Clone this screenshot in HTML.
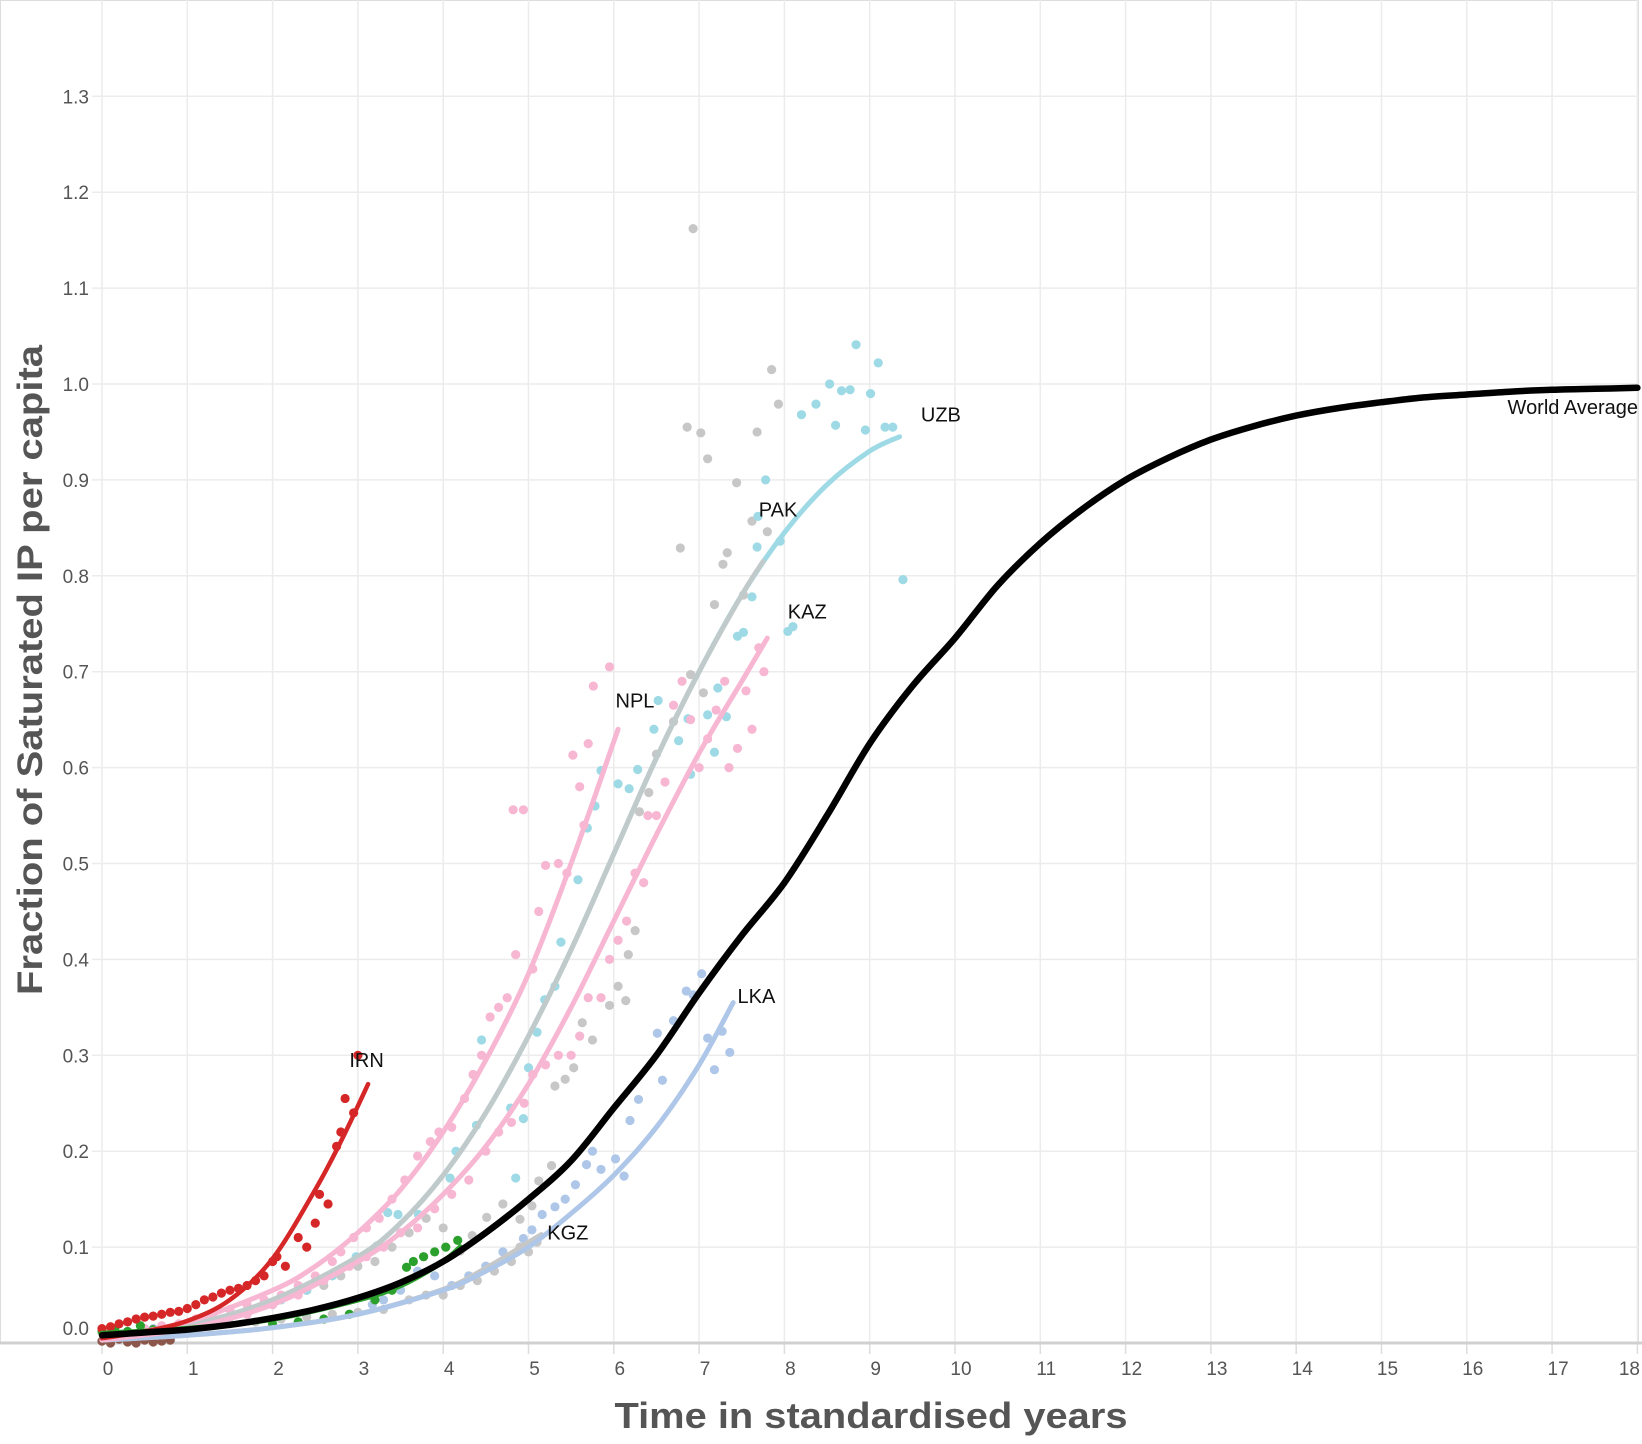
<!DOCTYPE html>
<html><head><meta charset="utf-8"><style>
html,body{margin:0;padding:0;background:#fff;}
svg{display:block;font-family:"Liberation Sans",Arial,sans-serif;}
</style></head><body>
<svg id="chart" width="1642" height="1444" viewBox="0 0 1642 1444" xmlns="http://www.w3.org/2000/svg">
<rect x="0" y="0" width="1642" height="1444" fill="#fff"/>
<g id="grid"></g>
<g id="axes"></g>
<g id="dots"></g>
<g id="lines"></g>
<g id="labels"></g>
<text x="871" y="1428" text-anchor="middle" font-size="36" font-weight="bold" fill="#555" textLength="513" lengthAdjust="spacingAndGlyphs">Time in standardised years</text>
<text transform="translate(42,670) rotate(-90)" text-anchor="middle" font-size="35" font-weight="bold" fill="#555" textLength="650" lengthAdjust="spacingAndGlyphs">Fraction of Saturated IP per capita</text>
</svg>
<script>
const xTicks=[0,1,2,3,4,5,6,7,8,9,10,11,12,13,14,15,16,17,18];
const yTicks=[0,0.1,0.2,0.3,0.4,0.5,0.6,0.7,0.8,0.9,1.0,1.1,1.2,1.3];
const yTickLabels=["0.0","0.1","0.2","0.3","0.4","0.5","0.6","0.7","0.8","0.9","1.0","1.1","1.2","1.3"];

const worldT=[0,0.5,1,1.5,2,2.5,3,3.5,4,4.5,5,5.5,6,6.5,7,7.5,8,8.5,9,9.5,10,10.5,11,11.5,12,12.5,13,13.5,14,14.5,15,15.5,16,16.5,17,17.5,18];
const worldV=[0.008,0.011,0.014,0.019,0.026,0.035,0.047,0.063,0.085,0.115,0.15,0.19,0.245,0.30,0.365,0.425,0.48,0.55,0.625,0.685,0.735,0.79,0.834,0.87,0.90,0.923,0.942,0.956,0.967,0.975,0.981,0.986,0.989,0.992,0.994,0.995,0.996];
const irnT=[0,0.5,1,1.5,2,2.5,2.8,3.12];
const irnV=[0.005,0.012,0.023,0.045,0.088,0.16,0.21,0.27];
const nplT=[0,1,2,2.5,3,3.5,4,4.5,5,5.5,6.05];
const nplV=[0.005,0.022,0.055,0.08,0.115,0.16,0.22,0.295,0.385,0.5,0.64];
const uzbT=[0,1,2,3,3.5,4,4.5,5,5.5,6,6.5,7,7.5,8,8.5,9,9.35];
const uzbV=[0.005,0.018,0.045,0.09,0.125,0.175,0.24,0.32,0.41,0.51,0.61,0.70,0.78,0.845,0.895,0.93,0.945];
const pakT=[0,1,2,3,3.5,4,4.5,5,5.5,6,6.5,7,7.5,7.75];
const pakV=[0.005,0.018,0.045,0.09,0.125,0.175,0.24,0.32,0.41,0.51,0.61,0.70,0.78,0.815];
const kazT=[0,1,2,3,3.5,4,4.5,5,5.5,6,6.5,7,7.5,7.8];
const kazV=[0.003,0.015,0.04,0.085,0.115,0.155,0.205,0.27,0.35,0.44,0.53,0.615,0.69,0.735];
const lkaT=[0,1,2,3,4,4.5,5,5.5,6,6.5,7,7.4];
const lkaV=[0.003,0.008,0.016,0.03,0.055,0.075,0.10,0.135,0.175,0.225,0.29,0.355];
const kgzT=[0,1,2,3,4,4.5,5,5.15];
const kgzV=[0.003,0.008,0.016,0.03,0.056,0.078,0.105,0.113];
const grnT=[0,1,2,3,3.5,4,4.2];
const grnV=[0.01,0.015,0.025,0.045,0.06,0.085,0.10];

const grayT=[0.2,0.5,0.8,1.1,1.4,1.7,2,2.2,2.4,2.6,2.8,3,3.2,3.4,3.6,3.8,4,4.2,4.34,4.51,4.7,4.9,5.04,5.12,5.27,5.31,5.43,5.53,5.63,5.75,5.95,6.05,6.14,6.17,6.25,6.3,6.41,6.5,6.7,6.78,6.86,6.9,6.93,7.02,7.05,7.1,7.18,7.28,7.33,7.44,7.52,7.62,7.68,7.8,7.85,7.93,
1.5,1.8,2.1,2.4,2.7,3.0,3.3,3.6,3.8,4.0,4.2,4.4,4.5,4.6,4.8,4.9,5.0,5.1];
const grayV=[0.005,0.01,0.015,0.02,0.025,0.03,0.04,0.05,0.055,0.06,0.07,0.08,0.085,0.10,0.115,0.13,0.12,0.096,0.112,0.131,0.145,0.129,0.143,0.169,0.185,0.268,0.275,0.287,0.334,0.316,0.352,0.372,0.357,0.405,0.43,0.554,0.574,0.614,0.648,0.829,0.955,0.697,1.162,0.949,0.678,0.922,0.77,0.812,0.824,0.897,0.78,0.857,0.95,0.846,1.015,0.979,
0.02,0.022,0.025,0.027,0.03,0.032,0.035,0.045,0.05,0.05,0.06,0.065,0.08,0.075,0.085,0.10,0.095,0.105];
const uzbPtT=[8.84,9.1,8.77,8.67,8.53,8.37,8.2,8.6,8.95,9.01,9.18,9.27,9.39,7.78,7.69,7.68,7.95,7.62,7.52,7.45,8.04,8.1,7.22,7.1,6.87,6.76,7.18,7.32,6.9,6.52,6.47,6.28,6.18,6.05,5.85,5.78,5.69,5.58,5.38,5.31,5.19,5.1,5.0,4.94,4.85,4.79,4.45,4.39,4.15,4.08,3.71,3.47,3.35,3.22,2.98,2.7,2.4,2.1];
const uzbPtV=[1.041,1.022,0.994,0.993,1.0,0.979,0.968,0.957,0.952,0.99,0.955,0.955,0.796,0.90,0.862,0.83,0.836,0.778,0.741,0.737,0.742,0.747,0.683,0.655,0.651,0.628,0.616,0.653,0.593,0.67,0.64,0.598,0.578,0.583,0.597,0.56,0.537,0.483,0.418,0.372,0.358,0.324,0.287,0.234,0.172,0.245,0.316,0.227,0.20,0.172,0.134,0.134,0.136,0.101,0.09,0.07,0.055,0.045];
const nplPtT=[0.1,0.3,0.5,0.7,0.9,1.1,1.3,1.5,1.7,1.9,2.1,2.3,2.5,2.7,2.8,2.95,3.1,3.25,3.4,3.55,3.7,3.85,3.95,4.1,4.25,4.35,4.45,4.55,4.65,4.75,4.82,4.94,4.85,5.05,5.12,5.2,5.35,5.52,5.45,5.6,5.65,5.76,5.95,5.7];
const nplPtV=[0.01,0.012,0.015,0.018,0.02,0.025,0.03,0.035,0.04,0.045,0.05,0.06,0.07,0.085,0.095,0.11,0.12,0.13,0.15,0.17,0.195,0.21,0.22,0.225,0.255,0.28,0.30,0.34,0.35,0.36,0.556,0.556,0.405,0.39,0.45,0.498,0.50,0.613,0.49,0.58,0.54,0.685,0.705,0.625];
const kazPtT=[0.2,0.5,0.8,1.1,1.4,1.7,2,2.3,2.6,2.9,3.1,3.3,3.5,3.7,3.9,4.1,4.3,4.5,4.65,4.8,4.95,5.05,5.2,5.35,5.5,5.6,5.7,5.85,5.95,6.05,6.15,6.25,6.35,6.5,6.6,6.7,6.8,6.9,7.0,7.1,7.2,7.3,7.35,7.45,7.55,7.62,7.7,7.76,6.4];
const kazPtV=[0.005,0.01,0.013,0.018,0.025,0.03,0.04,0.05,0.065,0.08,0.09,0.10,0.115,0.12,0.14,0.155,0.17,0.2,0.22,0.23,0.25,0.28,0.29,0.30,0.30,0.32,0.36,0.36,0.40,0.42,0.44,0.49,0.48,0.55,0.585,0.665,0.69,0.65,0.60,0.63,0.66,0.69,0.60,0.62,0.68,0.64,0.725,0.70,0.55];
const lkaPtT=[7.03,6.85,6.93,6.7,6.51,7.27,7.36,7.18,7.1,6.57,6.29,6.19,6.02,6.12,5.85,5.75,5.68,5.55,5.43,5.31,5.16,5.04,4.94,4.7,4.5,4.3,4.1,3.9,3.7,3.5,3.3,3.17,0.3,0.6];
const lkaPtV=[0.385,0.367,0.363,0.336,0.323,0.325,0.303,0.285,0.318,0.274,0.254,0.232,0.192,0.174,0.181,0.20,0.186,0.165,0.150,0.142,0.134,0.118,0.109,0.095,0.08,0.07,0.06,0.07,0.075,0.055,0.045,0.04,0.012,0.015];
const irnPtT=[0,0.1,0.2,0.3,0.4,0.5,0.6,0.7,0.8,0.9,1,1.1,1.2,1.3,1.4,1.5,1.6,1.7,1.8,1.9,2.0,2.05,2.15,2.3,2.4,2.5,2.55,2.65,2.75,2.8,2.85,2.95,3.0];
const irnPtV=[0.015,0.017,0.02,0.022,0.025,0.027,0.028,0.03,0.032,0.033,0.036,0.04,0.045,0.048,0.052,0.055,0.057,0.06,0.065,0.07,0.085,0.09,0.08,0.11,0.10,0.125,0.155,0.145,0.205,0.22,0.255,0.24,0.30];
const grnPtT=[0,0.15,0.3,0.45,0.6,2.0,2.3,2.6,2.9,3.2,3.4,3.57,3.65,3.77,3.9,4.03,4.17];
const grnPtV=[0.012,0.015,0.012,0.018,0.014,0.02,0.022,0.025,0.03,0.045,0.055,0.079,0.085,0.09,0.095,0.10,0.107];
const brnPtT=[0,0.1,0.2,0.3,0.4,0.5,0.6,0.7,0.8];
const brnPtV=[0.002,0.0,0.004,0.001,0.0,0.003,0.001,0.002,0.003];

const X=t=>102+85.3*t;
const Y=v=>1343-959*v;
const NS="http://www.w3.org/2000/svg";
function mk(tag,attrs,parent){const e=document.createElementNS(NS,tag);for(const k in attrs)e.setAttribute(k,attrs[k]);parent.appendChild(e);return e;}

const grid=document.getElementById('grid'),axes=document.getElementById('axes');
mk('rect',{x:0.5,y:0.5,width:1638,height:1342.5,fill:'none',stroke:'#ddd','stroke-width':1},grid);
xTicks.forEach((t,i)=>{
  const l=mk('line',{x1:X(t),x2:X(t),y1:0,y2:1343,stroke:'#ececec','stroke-width':1.5},grid);
  
  
  const tk=mk('line',{x1:X(t),x2:X(t),y1:1343,y2:1354,stroke:'#ddd','stroke-width':1.5},axes);
  
  
  const last=i===xTicks.length-1;
  const tx=mk('text',{x:last?1640:X(t)+6,y:1375,'text-anchor':last?'end':'middle','font-size':19,fill:'#555'},axes);
  tx.textContent=String(t);
  
  
});
yTicks.forEach((v,i)=>{
  if(i>0){
    const l=mk('line',{x1:92,x2:1639,y1:Y(v),y2:Y(v),stroke:'#ececec','stroke-width':1.5},grid);
    
    
  }
  const ty=i===0?1335:Y(v)+7;
  const tx=mk('text',{x:89,y:ty,'text-anchor':'end','font-size':19,fill:'#555'},axes);
  tx.textContent=yTickLabels[i];
  
  
});
const ax=mk('line',{x1:0,x2:1642,y1:1343,y2:1343,stroke:'#d0d0d0','stroke-width':3},axes);



const dots=document.getElementById('dots');
function drawDots(ts,vs,color,name){
  ts.forEach((t,i)=>{
    const c=mk('circle',{cx:X(t),cy:Y(vs[i]),r:4.6,fill:color},dots);
    
    
  });
}
drawDots(grayT,grayV,'#c7c7c7','pak-kgz-point');
drawDots(lkaPtT,lkaPtV,'#aec7e8','lka-point');
drawDots(uzbPtT,uzbPtV,'#9edae5','uzb-point');
drawDots(kazPtT,kazPtV,'#f7b6d2','kaz-point');
drawDots(nplPtT,nplPtV,'#f7b6d2','npl-point');
drawDots(grnPtT,grnPtV,'#2ca02c','green-point');
drawDots(irnPtT,irnPtV,'#d62728','irn-point');
drawDots(brnPtT,brnPtV,'#8c564b','brown-point');

const lines=document.getElementById('lines');
function drawLine(ts,vs,color,w,name,op){
  const P=ts.map((t,i)=>[X(t),Y(vs[i])]);
  let d='M'+P[0][0].toFixed(1)+','+P[0][1].toFixed(1);
  for(let i=0;i<P.length-1;i++){
    const p0=P[i-1]||P[i],p1=P[i],p2=P[i+1],p3=P[i+2]||P[i+1];
    const c1=[p1[0]+(p2[0]-p0[0])/6,p1[1]+(p2[1]-p0[1])/6];
    const c2=[p2[0]-(p3[0]-p1[0])/6,p2[1]-(p3[1]-p1[1])/6];
    d+='C'+c1[0].toFixed(1)+','+c1[1].toFixed(1)+' '+c2[0].toFixed(1)+','+c2[1].toFixed(1)+' '+p2[0].toFixed(1)+','+p2[1].toFixed(1);
  }
  const p=mk('path',{d:d,fill:'none',stroke:color,'stroke-width':w,'stroke-linecap':'round','stroke-linejoin':'round','stroke-opacity':op||1},lines);
  
  
}
drawLine(kgzT,kgzV,'#c7c7c7',5,'kgz-fit-line');
drawLine(lkaT,lkaV,'#aec7e8',5,'lka-fit-line');
drawLine(uzbT,uzbV,'#9edae5',5,'uzb-fit-line');
drawLine(pakT,pakV,'#c7c7c7',5,'pak-fit-line',0.85);
drawLine(kazT,kazV,'#f7b6d2',5,'kaz-fit-line');
drawLine(nplT,nplV,'#f7b6d2',5,'npl-fit-line');
drawLine(grnT,grnV,'#2ca02c',5.5,'green-fit-line');
drawLine(irnT,irnV,'#d62728',4.5,'irn-fit-line');
drawLine(worldT,worldV,'#000',6.5,'world-average-line');

const labels=document.getElementById('labels');
const labNames=["IRN","UZB","PAK","KAZ","NPL","LKA","KGZ"];
const labT=[2.9,9.6,7.7,8.04,6.02,7.45,5.22];
const labV=[0.295,0.968,0.869,0.763,0.67,0.362,0.115];
labNames.forEach((n,i)=>{
  const t=mk('text',{x:X(labT[i]),y:Y(labV[i])+7,'font-size':20,fill:'#111'},labels);
  t.textContent=n;
  
  
});
const wa=mk('text',{x:1638,y:414,'text-anchor':'end','font-size':20,fill:'#111'},labels);
wa.textContent='World Average';


</script>
</body></html>
